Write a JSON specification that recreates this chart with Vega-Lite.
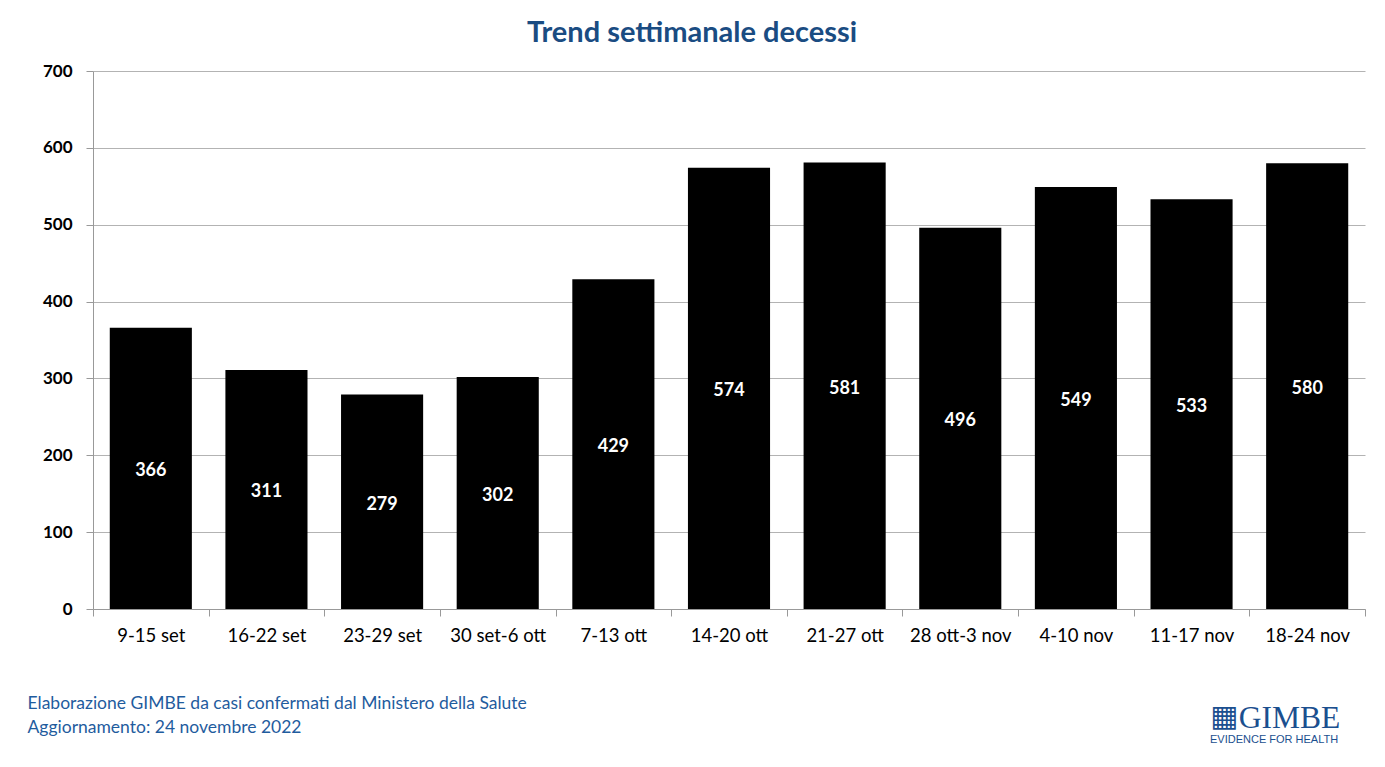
{
  "$schema": "https://vega.github.io/schema/vega-lite/v6.json",
  "autosize": {"type": "none"},
  "width": 1272,
  "height": 538,
  "padding": {"left": 93, "top": 71, "right": 20, "bottom": 158},
  "background": "white",
  "config": {
    "view": {"stroke": null},
    "font": "Lato"
  },
  "title": {
    "text": "Trend settimanale decessi",
    "font": "Lato",
    "fontSize": 29,
    "fontWeight": "bold",
    "color": "#1A4C82",
    "anchor": "middle",
    "frame": "group",
    "dx": -37,
    "dy": 36,
    "baseline": "alphabetic",
    "offset": 27
  },
  "data": {
    "values": [
      {"week": "9-15 set", "value": 366},
      {"week": "16-22 set", "value": 311},
      {"week": "23-29 set", "value": 279},
      {"week": "30 set-6 ott", "value": 302},
      {"week": "7-13 ott", "value": 429},
      {"week": "14-20 ott", "value": 574},
      {"week": "21-27 ott", "value": 581},
      {"week": "28 ott-3 nov", "value": 496},
      {"week": "4-10 nov", "value": 549},
      {"week": "11-17 nov", "value": 533},
      {"week": "18-24 nov", "value": 580}
    ]
  },
  "resolve": {"scale": {"y": "independent"}},
  "layer": [
    {
      "mark": {"type": "bar", "color": "#000000", "width": {"band": 0.71}},
      "encoding": {
        "x": {
          "field": "week", "type": "nominal", "sort": null,
          "scale": {"paddingInner": 0, "paddingOuter": 0},
          "axis": {
            "title": ["Elaborazione GIMBE da casi confermati dal Ministero della Salute", "Aggiornamento: 24 novembre 2022"],
            "titleFont": "Lato", "titleFontSize": 17.5, "titleFontWeight": "normal",
            "titleColor": "#1F5C9E", "titleAlign": "left", "titleAnchor": "start",
            "titleX": -66, "titleY": 99, "titleBaseline": "alphabetic", "titleLineHeight": 24,
            "labelAngle": 0, "labelFont": "Lato", "labelFontSize": 18.5, "labelColor": "#000000",
            "labelPadding": 10, "tickSize": 7, "tickBand": "extent",
            "tickColor": "#999999", "domainColor": "#999999", "labelOverlap": false
          }
        },
        "y": {
          "field": "value", "type": "quantitative",
          "scale": {"domain": [0, 700], "nice": false},
          "axis": {
            "title": null, "values": [0, 100, 200, 300, 400, 500, 600, 700],
            "labelFont": "Lato", "labelFontSize": 17, "labelFontWeight": "bold", "labelColor": "#000000",
            "labelPadding": 14, "tickSize": 7, "tickColor": "#999999", "domainColor": "#999999",
            "gridColor": "#B3B3B3", "grid": true
          }
        }
      }
    },
    {
      "mark": {"type": "text", "color": "#FFFFFF", "font": "Lato", "fontSize": 18, "fontWeight": "bold", "baseline": "middle", "yOffset": 3},
      "encoding": {
        "x": {"field": "week", "type": "nominal", "sort": null},
        "y": {"field": "value", "type": "quantitative", "scale": {"domain": [0, 1400], "nice": false}, "axis": null},
        "text": {"field": "value", "type": "quantitative"}
      }
    },
    {
      "data": {"values": [{"t": "GIMBE"}]},
      "mark": {"type": "text", "color": "#1B4F8F", "font": "Liberation Serif", "fontSize": 31.5, "align": "right", "baseline": "alphabetic", "xOffset": 33, "yOffset": 119},
      "encoding": {
        "x": {"datum": "18-24 nov"},
        "y": {"datum": 0, "scale": {"domain": [0, 700], "nice": false}, "axis": null},
        "text": {"field": "t"}
      }
    },
    {
      "data": {"values": [{"t": "EVIDENCE FOR HEALTH"}]},
      "mark": {"type": "text", "color": "#1B4F8F", "font": "Liberation Sans", "fontSize": 11, "align": "right", "baseline": "alphabetic", "xOffset": 31, "yOffset": 134},
      "encoding": {
        "x": {"datum": "18-24 nov"},
        "y": {"datum": 0, "scale": {"domain": [0, 700], "nice": false}, "axis": null},
        "text": {"field": "t"}
      }
    },
    {
      "data": {"values": [{"t": "▦"}]},
      "mark": {"type": "text", "color": "#1B4F8F", "font": "DejaVu Sans", "fontSize": 30, "align": "center", "baseline": "middle", "xOffset": -83, "yOffset": 108},
      "encoding": {
        "x": {"datum": "18-24 nov"},
        "y": {"datum": 0, "scale": {"domain": [0, 700], "nice": false}, "axis": null},
        "text": {"field": "t"}
      }
    }
  ]
}
